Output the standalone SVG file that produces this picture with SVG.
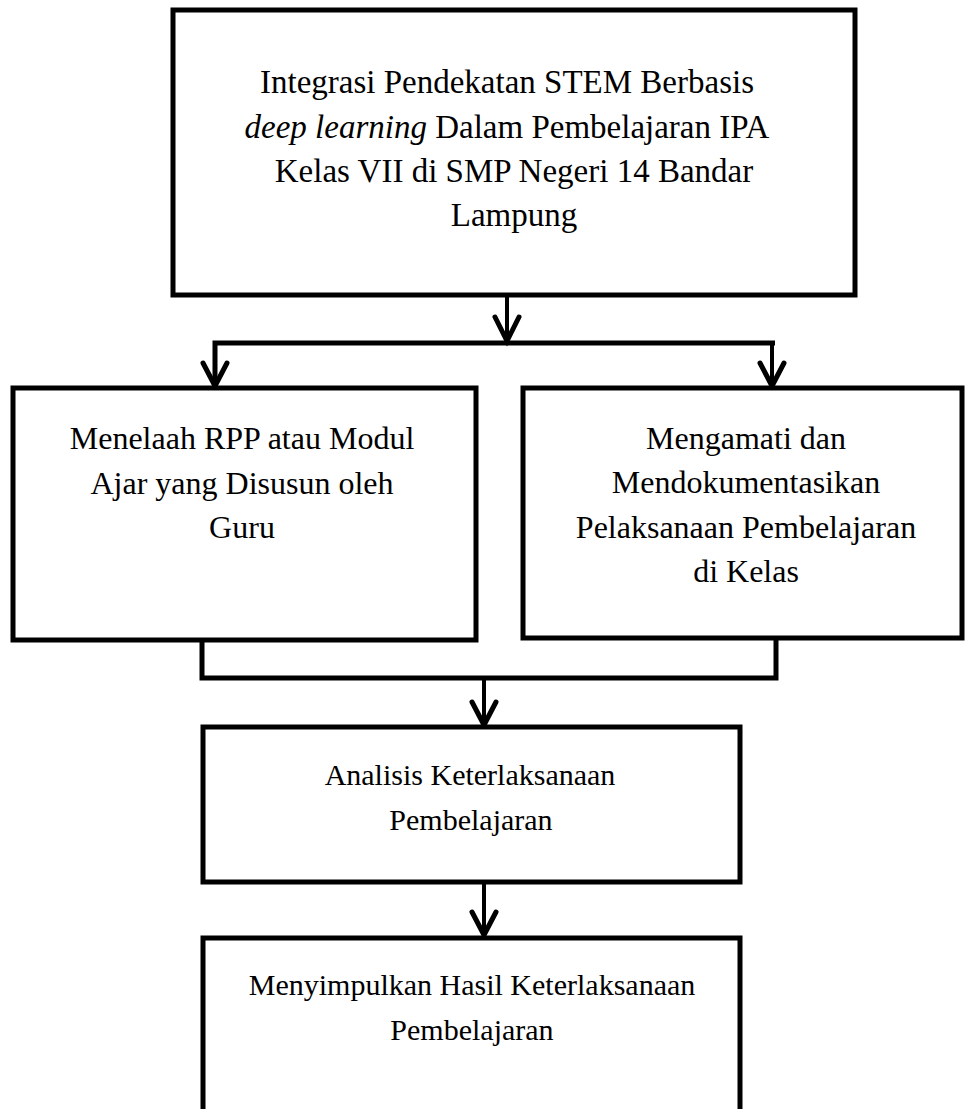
<svg xmlns="http://www.w3.org/2000/svg" width="965" height="1109" viewBox="0 0 965 1109">
<defs>
<style>
.box{fill:#fff;stroke:#000;stroke-width:5}
.t{font-family:"Liberation Serif","Times New Roman",serif;font-size:31px;fill:#000;text-anchor:middle}
.t1{font-size:33px}
.t2{font-size:32px}
.t3{font-size:30px}
.c{fill:none;stroke:#000;stroke-width:5}
.a{fill:none;stroke:#000;stroke-width:4}
</style>
</defs>
<rect width="965" height="1109" fill="#fff"/>
<g id="connectors">
<line class="a" x1="507" y1="297" x2="507" y2="340"/>
<path d="M495,317 L507,341 L519,317" class="c" stroke-linecap="round"/>
<polyline class="c" points="215,385 215,343 775,343"/>
<line class="a" x1="772" y1="343" x2="772" y2="385"/>
<path d="M203,363 L215,386 L227,363" class="c" stroke-linecap="round"/>
<path d="M760,363 L772,386 L784,363" class="c" stroke-linecap="round"/>
<polyline class="c" points="202,642 202,678 776,678 776,640"/>
<line class="a" x1="484" y1="678" x2="484" y2="724"/>
<path d="M472,702 L484,725 L496,702" class="c" stroke-linecap="round"/>
<line class="a" x1="484" y1="884" x2="484" y2="934"/>
<path d="M472,912 L484,935 L496,912" class="c" stroke-linecap="round"/>
</g>
<g id="n1">
<rect class="box" x="173" y="10" width="682" height="285"/>
<text class="t t1" x="507" y="93">Integrasi Pendekatan STEM Berbasis</text>
<text class="t t1" x="507" y="138"><tspan font-style="italic">deep learning</tspan> Dalam Pembelajaran IPA</text>
<text class="t t1" x="514" y="182">Kelas VII di SMP Negeri 14 Bandar</text>
<text class="t t1" x="514" y="226">Lampung</text>
</g>
<g id="n2">
<rect class="box" x="13" y="388" width="463" height="252"/>
<text class="t t2" x="242" y="449">Menelaah RPP atau Modul</text>
<text class="t t2" x="242" y="494">Ajar yang Disusun oleh</text>
<text class="t t2" x="242" y="538">Guru</text>
</g>
<g id="n3">
<rect class="box" x="523" y="388" width="439" height="250"/>
<text class="t t2" x="746" y="449">Mengamati dan</text>
<text class="t t2" x="746" y="493">Mendokumentasikan</text>
<text class="t t2" x="746" y="538">Pelaksanaan Pembelajaran</text>
<text class="t t2" x="746" y="582">di Kelas</text>
</g>
<g id="n4">
<rect class="box" x="203" y="727" width="537" height="155"/>
<text class="t t3" x="470" y="785">Analisis Keterlaksanaan</text>
<text class="t t3" x="471" y="830">Pembelajaran</text>
</g>
<g id="n5">
<rect class="box" x="203" y="938" width="537" height="200"/>
<text class="t t3" x="472" y="995">Menyimpulkan Hasil Keterlaksanaan</text>
<text class="t t3" x="472" y="1040">Pembelajaran</text>
</g>
</svg>
